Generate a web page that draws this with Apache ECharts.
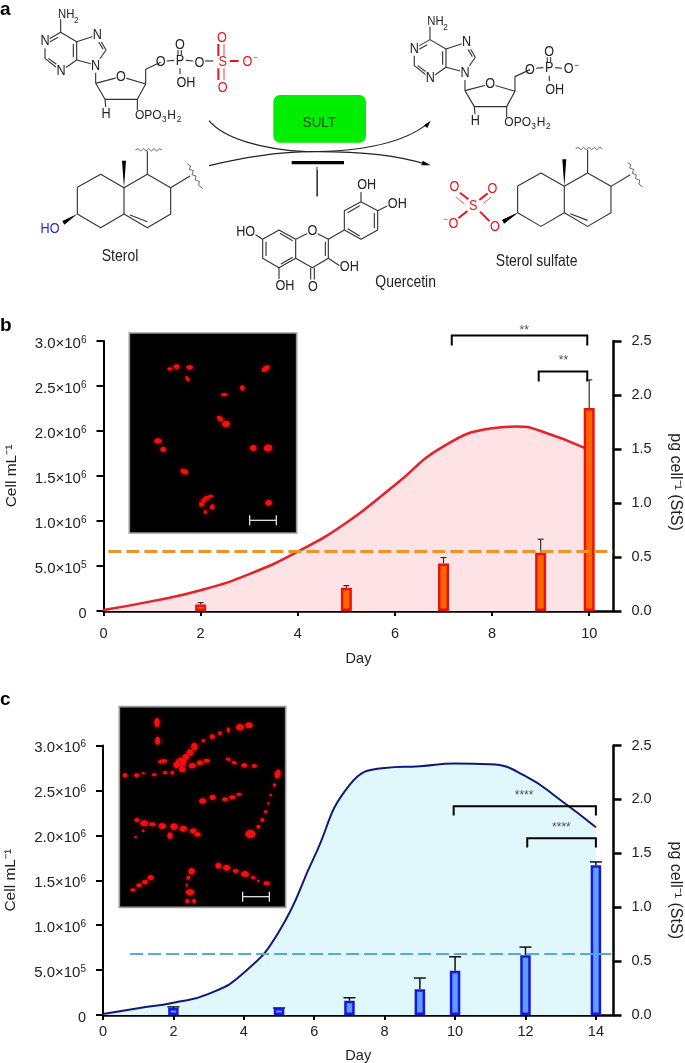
<!DOCTYPE html>
<html>
<head>
<meta charset="utf-8">
<style>
  html, body { margin: 0; padding: 0; background: #fff; }
  #chart { width: 685px; height: 1063px; }
</style>
<script src="https://cdn.jsdelivr.net/npm/echarts@6/dist/echarts.min.js"></script>
</head>
<body>
<div id="chart"></div>
<script>
// panel b
var curveDaysB = [0, 1, 2, 3, 4, 5, 6, 7, 8, 8.5, 9, 10];
var cellsB = [10000, 110000, 230000, 410000, 660000, 980000, 1400000, 1830000, 2030000, 2050000, 2000000, 1790000];
var barDaysB = [2, 5, 7, 9, 10];
var stsB = [0.06, 0.216, 0.44, 0.54, 1.88];
var stsErrTopB = [0.077, 0.235, 0.495, 0.665, 2.14];
var thresholdDaysB = [0.1, 10.49];
var thresholdB = [0.55, 0.55];
var dayTicksB = [0, 2, 4, 6, 8, 10];

// panel c
var curveDaysC = [0, 1, 2, 3, 4, 5, 6, 7, 8, 9, 10, 11, 12, 13, 14];
var cellsC = [10000, 75000, 137000, 235000, 470000, 930000, 1760000, 2560000, 2750000, 2770000, 2800000, 2790000, 2660000, 2390000, 2090000];
var barDaysC = [2, 5, 7, 9, 10, 12, 14];
var stsC = [0.065, 0.065, 0.133, 0.24, 0.41, 0.555, 1.39];
var stsErrTopC = [0.075, 0.065, 0.16, 0.343, 0.54, 0.63, 1.42];
var thresholdDaysC = [0.77, 14.49];
var thresholdC = [0.566, 0.566];
var dayTicksC = [0, 2, 4, 6, 8, 10, 12, 14];

// significance brackets: from day, to day, top, foot, stars, label day, label value
var bracketsB = [
  [7.17, 9.96, 3060000, 2950000, '**', 8.66, 3120000],
  [8.96, 9.96, 2660000, 2550000, '**', 9.47, 2780000]
];
var bracketsC = [
  [9.96, 14, 2324000, 2220000, '****', 11.96, 2440000],
  [12.05, 14, 1968000, 1864000, '****', 13.02, 2087000]
];

var FONT = '"Liberation Sans", Arial, sans-serif';
var INK = '#222';
var CHEM_RED = '#e8141c';

function cellLabel(v) {
  if (!v) return '0';
  var exp = Math.floor(Math.log10(v) + 1e-9);
  return '{m|' + (v / Math.pow(10, exp)).toFixed(1) + '×10}{e|' + exp + '}';
}

function gridAxes(gridIndex, xMax, ticks, rightPadding, labelMargin, dayGap) {
  var x = {
    type: 'value', gridIndex: gridIndex, min: 0, max: xMax,
    name: 'Day', nameLocation: 'middle', nameGap: dayGap,
    nameTextStyle: { color: INK, fontFamily: FONT, fontSize: 14.5 },
    splitLine: { show: false },
    axisLine: { onZero: false, lineStyle: { color: '#000', width: 2.5 } },
    axisTick: { length: 5, customValues: ticks, lineStyle: { color: '#000', width: 2 } },
    axisLabel: { customValues: ticks, margin: labelMargin, color: INK, fontFamily: FONT, fontSize: 14.5 }
  };
  var left = {
    type: 'value', gridIndex: gridIndex, min: 0, max: 3000000, interval: 500000,
    name: 'Cell mL⁻¹', nameLocation: 'middle', nameGap: 84, nameRotate: 90,
    nameTextStyle: { color: INK, fontFamily: FONT, fontSize: 15.5 },
    splitLine: { show: false },
    axisLine: { show: true, onZero: false, lineStyle: { color: '#000', width: 2 } },
    axisTick: { show: true, length: 7, lineStyle: { color: '#000', width: 2 } },
    axisLabel: {
      margin: 17, color: INK, fontFamily: FONT, formatter: cellLabel,
      fontSize: 14.5, padding: [5, 0, 0, 0],
      rich: {
        m: { fontFamily: FONT, fontSize: 15, color: INK },
        e: { fontFamily: FONT, fontSize: 10, color: INK, verticalAlign: 'bottom', padding: [0, 0, 7, 0] }
      }
    }
  };
  var right = {
    type: 'value', gridIndex: gridIndex, position: 'right', min: 0, max: 2.5, interval: 0.5,
    name: 'pg cell⁻¹ (StS)', nameLocation: 'middle', nameGap: 54, nameRotate: -90,
    nameTextStyle: { color: INK, fontFamily: FONT, fontSize: 16, padding: rightPadding },
    splitLine: { show: false },
    axisLine: { show: true, onZero: false, lineStyle: { color: '#000', width: 2.5 } },
    axisTick: { show: true, length: 8, lineStyle: { color: '#000', width: 2.5 } },
    axisLabel: {
      margin: 18, color: INK, fontFamily: FONT, fontSize: 14.5,
      formatter: function (v) { return v.toFixed(1); }
    }
  };
  return { x: x, left: left, right: right };
}

function zip(a, b) {
  return a.map(function (v, i) { return [v, b[i]]; });
}

function panelSeries(idx, cfg) {
  var leftY = idx * 2;
  var rightY = idx * 2 + 1;
  var out = [];
  out.push({
    type: 'line', xAxisIndex: idx, yAxisIndex: leftY, z: 2,
    data: zip(cfg.curveDays, cfg.cells),
    smooth: 0.5, showSymbol: false,
    lineStyle: { color: cfg.lineColor, width: cfg.lineWidth },
    areaStyle: { color: cfg.areaColor, opacity: 1 }
  });
  out.push({
    type: 'bar', xAxisIndex: idx, yAxisIndex: rightY, z: 3,
    data: zip(cfg.barDays, cfg.sts),
    barWidth: cfg.barWidth,
    itemStyle: { color: cfg.barColor, borderColor: cfg.barBorder, borderWidth: 2.5 }
  });
  out.push({
    type: 'custom', xAxisIndex: idx, yAxisIndex: rightY, z: 3,
    data: cfg.barDays.map(function (d, i) { return [d, cfg.errTop[i], cfg.sts[i]]; }),
    renderItem: function (params, api) {
      var top = api.coord([api.value(0), api.value(1)]);
      var base = api.coord([api.value(0), api.value(2)]);
      var style = { stroke: cfg.errColor, lineWidth: cfg.errWidth };
      return {
        type: 'group',
        children: [
          { type: 'line', shape: { x1: top[0], y1: top[1], x2: base[0], y2: base[1] }, style: style },
          { type: 'line', shape: { x1: top[0] - cfg.cap, y1: top[1], x2: top[0] + cfg.cap, y2: top[1] }, style: style }
        ]
      };
    }
  });
  out.push({
    type: 'line', xAxisIndex: idx, yAxisIndex: rightY, z: 4,
    data: zip(cfg.thresholdDays, cfg.threshold),
    showSymbol: false,
    lineStyle: { color: cfg.dashColor, width: cfg.dashWidth, type: [13, 5] }
  });
  cfg.brackets.forEach(function (b) {
    out.push({
      type: 'line', xAxisIndex: idx, yAxisIndex: leftY, z: 5, clip: false,
      data: [[b[0], b[3]], [b[0], b[2]], [b[1], b[2]], [b[1], b[3]]],
      showSymbol: false,
      lineStyle: { color: '#000', width: 2, join: 'miter' }
    });
    out.push({
      type: 'scatter', xAxisIndex: idx, yAxisIndex: leftY, z: 5, clip: false,
      data: [[b[5], b[6]]], symbolSize: 1, itemStyle: { color: 'transparent' },
      label: {
        show: true, position: 'inside', formatter: b[4],
        color: INK, fontFamily: FONT, fontSize: 12
      }
    });
  });
  return out;
}

// ---- panel a, drawn in 3x crop coordinates and scaled down
function bonds(lists, color, width) {
  return lists.map(function (pts) {
    return {
      type: 'polyline', shape: { points: pts },
      style: { stroke: color || '#333', lineWidth: width || 3.4, fill: null, lineJoin: 'round' }
    };
  });
}
function txt(x, y, s, color, size) {
  return {
    type: 'text', x: x, y: y, scaleY: 1.12,
    style: {
      text: s, fill: color || INK, font: (size || 38) + 'px ' + FONT,
      align: 'center', verticalAlign: 'middle',
      backgroundColor: '#fff', padding: [0, 1]
    }
  };
}
function plain(x, y, s, color, size, align) {
  return {
    type: 'text', x: x, y: y, scaleY: 1.12,
    style: {
      text: s, fill: color || INK, font: (size || 38) + 'px ' + FONT,
      align: align || 'center', verticalAlign: 'middle'
    }
  };
}
function wedge(a, b, c) {
  return { type: 'polygon', shape: { points: [a, b, c] }, style: { fill: '#000' } };
}
function group(x, y, children) {
  return { type: 'group', x: x, y: y, scaleX: 1 / 3, scaleY: 1 / 3, children: children };
}

function adenosineCore() {
  return bonds([
    [[182, 97], [182, 58]],
    [[182, 97], [135, 124], [135, 175], [183, 213], [230, 180], [230, 125], [182, 97]],
    [[174, 112], [145, 128]], [[145, 175], [176, 198]], [[220, 172], [220, 132]],
    [[230, 125], [292, 105], [318, 150], [287, 195], [230, 180]],
    [[292, 118], [309, 148]],
    [[287, 195], [287, 250]],
    [[287, 250], [363, 230], [437, 252], [412, 298], [315, 298], [287, 250]],
    [[315, 298], [318, 330]],
    [[412, 298], [412, 330]],
    [[437, 252], [437, 208], [482, 187]]
  ]).concat([
    txt(135, 124, 'N'), txt(183, 213, 'N'), txt(292, 105, 'N'), txt(287, 197, 'N'),
    txt(363, 230, 'O'), txt(318, 342, 'H'),
    plain(174, 42, 'NH', INK, 34, 'left'), plain(222, 60, '2', INK, 25, 'left'),
    plain(405, 345, 'OPO', INK, 36, 'left'), plain(486, 358, '3', INK, 25, 'left'),
    plain(502, 345, 'H', INK, 36, 'left'), plain(530, 358, '2', INK, 25, 'left')
  ]);
}

function sterolCore() {
  return bonds([
    [[142, 142], [212, 103], [282, 143], [282, 222], [212, 263], [142, 222], [142, 142]],
    [[282, 143], [352, 103], [422, 143], [422, 222], [352, 263], [282, 222]],
    [[300, 225], [352, 245]],
    [[352, 103], [352, 33]],
    [[422, 143], [480, 108]]
  ]).concat(bonds([
    [[316, 30], [324, 26], [332, 33], [340, 26], [348, 33], [356, 26], [364, 33], [372, 26], [380, 33], [388, 26], [396, 30]],
    [[472, 72], [482, 78], [478, 88], [490, 92], [486, 104], [498, 108], [496, 120], [508, 124], [506, 136], [518, 145]]
  ], '#333', 2.2)).concat([
    wedge([282, 143], [276, 62], [288, 62]),
    wedge([142, 222], [97, 243], [103, 254])
  ]);
}

var panelA = [
  // left adenosine 5'-phosphosulfate
  group(0, 0, adenosineCore().concat(
    bonds([[[500, 183], [522, 181]], [[558, 181], [580, 183]], [[615, 183], [640, 183]],
      [[534, 165], [534, 150]], [[544, 165], [544, 150]], [[540, 205], [540, 222]]]),
    bonds([[[655, 168], [655, 132]], [[655, 205], [655, 240]]], CHEM_RED, 6),
    bonds([[[672, 168], [672, 132]], [[672, 205], [672, 240]]], CHEM_RED, 2.5),
    bonds([[[690, 183], [716, 183]]], CHEM_RED, 6),
    [
      plain(482, 187, 'O'), plain(540, 183, 'P'), plain(598, 188, 'O'), plain(540, 135, 'O'), plain(558, 250, 'OH'),
      plain(668, 185, 'S', CHEM_RED), plain(666, 115, 'O', CHEM_RED), plain(668, 265, 'O', CHEM_RED),
      plain(742, 187, 'O', CHEM_RED), plain(766, 174, '−', CHEM_RED, 24)
    ]
  )),
  // right adenosine phosphate
  group(369.3, 7.3, adenosineCore().concat(
    bonds([[[500, 183], [522, 181]], [[558, 181], [578, 183]],
      [[534, 165], [534, 150]], [[544, 165], [544, 150]], [[540, 205], [540, 222]]]),
    [
      plain(482, 187, 'O'), plain(540, 183, 'P'), plain(598, 186, 'O'), plain(540, 135, 'O'), plain(556, 248, 'OH'),
      plain(622, 175, '−', INK, 24)
    ]
  )),
  // sterol
  group(30, 140, sterolCore().concat([
    plain(60, 268, 'HO', '#2424d0', 38),
    plain(270, 350, 'Sterol', INK, 42)
  ])),
  // sterol sulfate
  group(470.3, 138.7, sterolCore()),
  group(435, 140, bonds([
    [[135, 215], [163, 243]], [[97, 213], [70, 235]], [[100, 178], [75, 158]], [[133, 180], [158, 160]]
  ], CHEM_RED, 6).concat(bonds([[[88, 192], [64, 172]], [[145, 190], [168, 172]]], CHEM_RED, 2.2), [
    wedge([248, 218], [201, 240], [207, 251]),
    plain(115, 197, 'S', CHEM_RED), plain(58, 140, 'O', CHEM_RED), plain(172, 147, 'O', CHEM_RED),
    plain(55, 252, 'O', CHEM_RED), plain(180, 262, 'O', CHEM_RED), plain(32, 238, '−', CHEM_RED, 24),
    plain(305, 365, 'Sterol sulfate', INK, 42)
  ])),
  // quercetin
  group(225, 170, bonds([
    [[277, 0], [277, 78]],
    [[212, 208], [162, 180], [113, 208], [113, 265], [162, 293], [212, 265], [212, 208]],
    [[212, 208], [262, 183], [310, 208], [310, 265], [262, 293], [212, 265]],
    [[165, 190], [203, 212]], [[123, 215], [123, 258]], [[168, 282], [203, 262]], [[301, 215], [301, 258]],
    [[257, 293], [257, 330]], [[268, 293], [268, 330]],
    [[310, 265], [345, 288]], [[162, 293], [162, 328]], [[113, 208], [88, 192]],
    [[310, 208], [358, 180]],
    [[358, 180], [358, 122], [408, 95], [458, 122], [458, 180], [408, 208], [358, 180]],
    [[368, 128], [404, 107]], [[448, 130], [448, 174]], [[404, 198], [368, 176]],
    [[408, 95], [408, 62]], [[458, 122], [488, 107]]
  ]).concat([
    txt(262, 183, 'O'), txt(62, 185, 'HO'), txt(373, 292, 'OH'), txt(180, 348, 'OH'),
    txt(264, 350, 'O'), txt(425, 45, 'OH'), txt(517, 103, 'OH'),
    plain(542, 338, 'Quercetin', INK, 42)
  ])),
  // SULT box and crossing arrows
  group(200, 90, [
    { type: 'rect', shape: { x: 220, y: 15, width: 278, height: 143, r: 20 }, style: { fill: '#00ee00' } },
    plain(358, 100, 'SULT', '#114411', 40),
    { type: 'bezierCurve', shape: { x1: 27, y1: 92, cpx1: 70, cpy1: 145, cpx2: 190, cpy2: 180, x2: 320, y2: 185 }, style: { stroke: '#222', lineWidth: 3.5, fill: null } },
    { type: 'bezierCurve', shape: { x1: 27, y1: 227, cpx1: 120, cpy1: 205, cpx2: 220, cpy2: 187, x2: 320, y2: 185 }, style: { stroke: '#222', lineWidth: 3.5, fill: null } },
    { type: 'bezierCurve', shape: { x1: 320, y1: 185, cpx1: 480, cpy1: 185, cpx2: 610, cpy2: 160, x2: 684, y2: 100 }, style: { stroke: '#222', lineWidth: 3.5, fill: null } },
    { type: 'bezierCurve', shape: { x1: 320, y1: 185, cpx1: 470, cpy1: 183, cpx2: 590, cpy2: 195, x2: 675, y2: 222 }, style: { stroke: '#222', lineWidth: 3.5, fill: null } },
    wedge([692, 92], [672, 106], [682, 114]),
    wedge([692, 226], [668, 212], [664, 226]),
    { type: 'rect', shape: { x: 275, y: 213, width: 157, height: 10 }, style: { fill: '#000' } },
    { type: 'line', shape: { x1: 351, y1: 230, x2: 351, y2: 320 }, style: { stroke: '#333', lineWidth: 3.2 } }
  ])
];

// ---- micrograph insets, also in 3x crop coordinates
var spotsB = [
  [135, 123, 8, 5, 0], [155, 116, 9, 7, 0], [194, 118, 10, 7, 0], [187, 152, 5, 9, 0.5], [422, 122, 14, 8, 0.6],
  [298, 200, 10, 5, 0], [352, 180, 7, 8, 0], [285, 272, 11, 7, -0.7], [303, 288, 12, 10, 0],
  [99, 339, 11, 8, 0], [115, 364, 9, 8, 0], [385, 360, 10, 9, 0], [429, 360, 13, 10, 0.2], [178, 431, 12, 8, -0.4],
  [431, 524, 10, 9, 0], [262, 537, 7, 8, 0], [241, 552, 5, 6, 0],
  [230, 528, 8, 8, 0], [237, 517, 8, 7, 0], [246, 509, 9, 6, 0], [257, 505, 9, 4, 0]
];
var spotsC = [
  [126, 68, 8, 14, 0], [128, 122, 8, 12, 0],
  [375, 82, 12, 10, 0], [402, 76, 11, 9, 0], [340, 90, 5, 8, 0], [315, 100, 6, 6, 0], [292, 110, 8, 7, 0], [265, 122, 6, 5, 0],
  [238, 140, 10, 12, 0], [225, 158, 10, 10, 0], [212, 172, 10, 10, 0], [198, 188, 16, 14, 0], [185, 195, 10, 10, 0], [202, 208, 10, 9, 0],
  [232, 197, 11, 8, 0], [255, 188, 10, 7, 0], [275, 182, 10, 6, 0], [143, 184, 14, 6, 0.2],
  [30, 226, 7, 7, 0], [65, 226, 8, 6, 0], [85, 220, 6, 3, 0], [118, 224, 7, 5, 0], [150, 218, 7, 5, 0], [172, 218, 6, 6, 0],
  [340, 178, 8, 5, -0.4], [358, 188, 8, 5, -0.3], [388, 196, 9, 7, 0], [418, 198, 8, 6, 0],
  [488, 222, 9, 14, -0.2], [478, 255, 5, 5, 0], [467, 285, 4, 4, 0], [460, 310, 4, 4, 0], [452, 335, 5, 5, 0], [442, 360, 6, 6, 0], [430, 380, 6, 6, 0], [406, 402, 15, 12, 0],
  [263, 303, 11, 8, 0], [293, 292, 9, 8, 0], [330, 298, 9, 6, 0], [352, 292, 10, 6, 0], [372, 283, 8, 5, 0],
  [66, 360, 8, 6, 0], [88, 370, 12, 9, 0], [112, 373, 10, 6, 0], [142, 378, 11, 9, 0], [177, 380, 11, 10, 0], [205, 386, 11, 9, 0], [235, 393, 10, 8, 0], [248, 403, 9, 7, 0], [165, 407, 8, 10, 0], [85, 392, 4, 4, 0], [62, 412, 5, 3, 0],
  [310, 497, 9, 9, 0], [335, 503, 11, 9, 0], [362, 513, 9, 6, 0], [390, 522, 12, 9, 0], [415, 533, 7, 5, 0], [430, 542, 5, 3, 0], [455, 550, 10, 6, 0],
  [107, 533, 9, 8, 0], [90, 546, 9, 7, 0], [72, 556, 8, 6, 0], [54, 570, 8, 5, 0],
  [230, 514, 10, 10, 0], [220, 533, 6, 6, 0], [215, 555, 3, 5, 0], [225, 577, 13, 9, 0], [217, 603, 6, 7, 0], [237, 603, 6, 7, 0]
];

function inset(x, y, rect, spots, barX, barY) {
  var children = [{
    type: 'rect',
    shape: { x: rect[0], y: rect[1], width: rect[2], height: rect[3] },
    style: { fill: '#000', stroke: '#999', lineWidth: 5 }
  }];
  spots.forEach(function (s) {
    children.push({
      type: 'ellipse', x: s[0], y: s[1], rotation: s[4],
      shape: { cx: 0, cy: 0, rx: s[2], ry: s[3] },
      style: { fill: '#f21010', shadowBlur: 4, shadowColor: '#c00000' }
    });
  });
  var sb = { stroke: '#ddd', lineWidth: 4 };
  children.push(
    { type: 'line', shape: { x1: barX, y1: barY, x2: barX + 80, y2: barY }, style: sb },
    { type: 'line', shape: { x1: barX, y1: barY - 15, x2: barX, y2: barY + 15 }, style: sb },
    { type: 'line', shape: { x1: barX + 80, y1: barY - 15, x2: barX + 80, y2: barY + 15 }, style: sb }
  );
  var g = group(x, y, children);
  g.z = 20;
  return g;
}

var axesB = gridAxes(0, 10.5, dayTicksB, [0, 0, 0, 12], 15, 40);
var axesC = gridAxes(1, 14.5, dayTicksC, [0, 0, 0, 20], 9, 33);

var configB = {
  curveDays: curveDaysB, cells: cellsB, barDays: barDaysB, sts: stsB, errTop: stsErrTopB,
  thresholdDays: thresholdDaysB, threshold: thresholdB, brackets: bracketsB,
  lineColor: '#e8202a', lineWidth: 2.5, areaColor: '#fde3e6',
  barWidth: 11, barColor: '#ff6600', barBorder: '#ea1212',
  errColor: '#333', errWidth: 1.2, cap: 3,
  dashColor: '#f0922b', dashWidth: 3
};
var configC = {
  curveDays: curveDaysC, cells: cellsC, barDays: barDaysC, sts: stsC, errTop: stsErrTopC,
  thresholdDays: thresholdDaysC, threshold: thresholdC, brackets: bracketsC,
  lineColor: '#10187e', lineWidth: 2, areaColor: '#e0f8fc',
  barWidth: 10.5, barColor: '#5b9eff', barBorder: '#1818d8',
  errColor: '#111', errWidth: 1.5, cap: 6,
  dashColor: '#5ba4e8', dashWidth: 2
};

var chart = echarts.init(document.getElementById('chart'), null, { renderer: 'canvas' });
chart.setOption({
  animation: false,
  backgroundColor: '#fff',
  grid: [
    { left: 103.5, top: 341, width: 510, height: 270, outerBoundsMode: 'none' },
    { left: 103, top: 745.5, width: 510.5, height: 269.5, outerBoundsMode: 'none' }
  ],
  xAxis: [axesB.x, axesC.x],
  yAxis: [axesB.left, axesB.right, axesC.left, axesC.right],
  series: panelSeries(0, configB).concat(panelSeries(1, configC)),
  graphic: {
    elements: panelA.concat([
      inset(125, 328, [13, 15, 502, 600], spotsB, 374, 577),
      inset(115, 700, [13, 20, 499, 602], spotsC, 383, 590),
      { type: 'text', x: 0, y: 0, style: { text: 'a', font: 'bold 19px ' + FONT, fill: '#000' } },
      { type: 'text', x: 0, y: 316, style: { text: 'b', font: 'bold 19px ' + FONT, fill: '#000' } },
      { type: 'text', x: 0, y: 690, style: { text: 'c', font: 'bold 19px ' + FONT, fill: '#000' } }
    ])
  }
});
</script>
</body>
</html>
